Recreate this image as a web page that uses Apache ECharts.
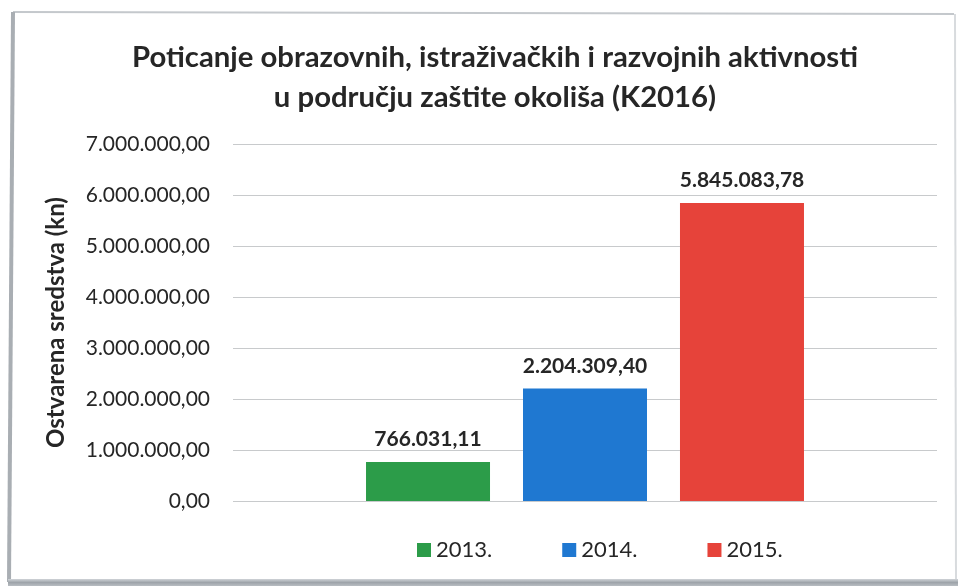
<!DOCTYPE html>
<html>
<head>
<meta charset="utf-8">
<script src="https://cdn.jsdelivr.net/npm/echarts@6/dist/echarts.min.js"></script>
<style>
html,body{margin:0;padding:0;background:#ffffff;}
#chart{width:958px;height:586px;}
</style>
</head>
<body>
<div id="chart"></div>
<script>
// ---- data ----
const titleLines = ['Poticanje obrazovnih, istraživačkih i razvojnih aktivnosti', 'u području zaštite okoliša (K2016)'];
const yAxisName = 'Ostvarena sredstva (kn)';
const categories = [''];
const seriesNames = ['2013.', '2014.', '2015.'];
const values2013 = [766031.11];
const values2014 = [2204309.40];
const values2015 = [5845083.78];
const seriesColors = ['#2c9c49', '#1f78d1', '#e6433a'];
const yMin = 0, yMax = 7000000, yStep = 1000000;

function fmtHr(v) {
  const fixed = Number(v).toFixed(2);
  const parts = fixed.split('.');
  const intPart = parts[0].replace(/\B(?=(\d{3})+(?!\d))/g, '.');
  return intPart + ',' + parts[1];
}

const seriesData = [values2013, values2014, values2015];
const txt = '#262626';
const font = 'Lato, "Open Sans", sans-serif';

const chart = echarts.init(document.getElementById('chart'), null, {renderer: 'canvas'});
chart.setOption({
  backgroundColor: '#ffffff',
  animation: false,
  textStyle: {fontFamily: font, color: txt},
  title: {
    text: titleLines.join('\n'),
    left: 490,
    top: 33,
    textAlign: 'center',
    textStyle: {fontFamily: font, fontWeight: 'bold', fontSize: 29.3, lineHeight: 40, color: txt}
  },
  grid: {left: 233, right: 21, top: 144, bottom: 85, containLabel: false},
  legend: {
    data: seriesNames,
    bottom: 20,
    left: 412,
    itemWidth: 14,
    itemHeight: 14,
    itemGap: 70,
    icon: 'rect',
    textStyle: {fontFamily: font, fontSize: 22, color: txt, padding: [0, 0, 0, 0]}
  },
  xAxis: {
    type: 'category',
    data: categories,
    axisLine: {show: false},
    axisTick: {show: false},
    axisLabel: {show: false}
  },
  yAxis: {
    type: 'value',
    min: yMin, max: yMax, interval: yStep,
    name: yAxisName,
    nameLocation: 'middle',
    nameGap: 165,
    nameTextStyle: {fontFamily: font, fontWeight: 'bold', fontSize: 24, color: txt},
    axisLine: {show: false},
    axisTick: {show: false},
    axisLabel: {formatter: fmtHr, fontSize: 21, color: txt, margin: 23, fontFamily: font},
    splitLine: {lineStyle: {color: '#c8cacc', width: 1}}
  },
  series: seriesNames.map((n, i) => ({
    name: n,
    type: 'bar',
    data: seriesData[i],
    barWidth: 124,
    barGap: '26.6%',
    itemStyle: {color: seriesColors[i]},
    label: {
      show: true,
      position: 'top',
      distance: 12,
      formatter: p => fmtHr(p.value),
      fontFamily: font,
      fontWeight: 'bold',
      fontSize: 21,
      color: txt
    }
  })),
  graphic: [
    {type: 'line', shape: {x1: 13, y1: 12, x2: 954, y2: 14}, style: {stroke: '#c4c8cc', lineWidth: 2}, silent: true},
    {type: 'line', shape: {x1: 13, y1: 12, x2: 9, y2: 582}, style: {stroke: '#a9aeb3', lineWidth: 4}, silent: true},
    {type: 'line', shape: {x1: 955, y1: 14, x2: 956, y2: 582}, style: {stroke: '#d8dbde', lineWidth: 2}, silent: true},
    {type: 'rect', shape: {x: 8, y: 579, width: 950, height: 7}, style: {fill: new echarts.graphic.LinearGradient(0, 0, 0, 1, [{offset: 0, color: '#d0d4d8'}, {offset: 0.5, color: '#9ea4aa'}, {offset: 1, color: '#b8bdc2'}])}, silent: true}
  ]
});
</script>
</body>
</html>
